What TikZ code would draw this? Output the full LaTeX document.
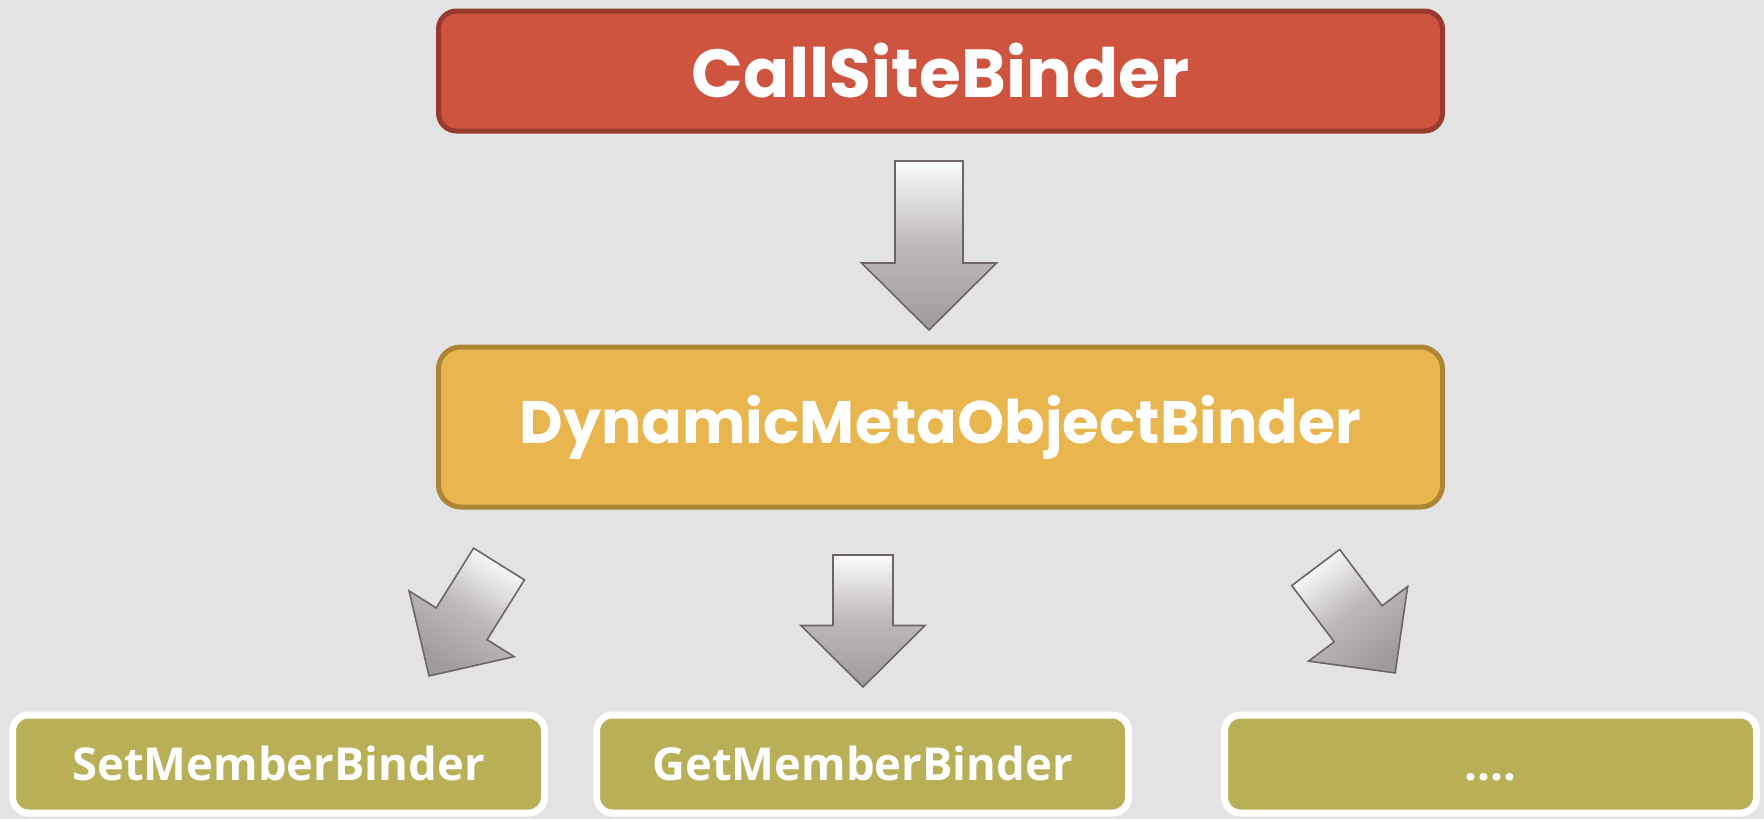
\documentclass[tikz,border=0pt]{standalone}
\usepackage{fontspec}
\newfontfamily\headfont{Poppins}
\newfontfamily\subfont{Open Sans}
\definecolor{bgcol}{HTML}{E3E3E3}
\definecolor{redfill}{HTML}{CE5440}
\definecolor{redline}{HTML}{983A2D}
\definecolor{goldfill}{HTML}{E8B54F}
\definecolor{goldline}{HTML}{AD8535}
\definecolor{olivefill}{HTML}{B8AF56}
\definecolor{arrowline}{HTML}{6E6467}
\definecolor{arrowtop}{HTML}{FBFBFB}
\definecolor{arrowmid}{HTML}{BDB8BA}
\definecolor{arrowbot}{HTML}{A09A9C}
\tikzset{
  topbox/.style={draw=redline, fill=redfill, line width=2.5pt, rounded corners=9pt,
    minimum width=502pt, minimum height=60pt, text=white, font=\headfont\bfseries\fontsize{34}{40}\selectfont},
  midbox/.style={draw=goldline, fill=goldfill, line width=2.5pt, rounded corners=11pt,
    minimum width=502pt, minimum height=80pt, text=white, font=\headfont\bfseries\fontsize{30}{36}\selectfont},
  subbox/.style={draw=white, fill=olivefill, line width=3.5pt, rounded corners=8pt,
    minimum width=266pt, minimum height=49pt, text=white, text height=16.5pt, text depth=0.3pt,
    font=\subfont\bfseries\fontsize{22.7}{27}\selectfont},
  blockarrow/.style={draw=arrowline, line width=0.8pt, top color=arrowtop, bottom color=arrowbot, middle color=arrowmid},
}
\begin{document}
\begin{tikzpicture}[x=0.5pt, y=-0.5pt]
\fill[bgcol] (0,0) rectangle (1764,819);
\useasboundingbox (0,0) rectangle (1764,819);

\node[topbox] (csb) at (940.5,71) {CallSiteBinder};
\node[midbox] (dmob) at (940.5,427) {DynamicMetaObjectBinder};
\node[subbox] (smb) at (278.5,764) {SetMemberBinder};
\node[subbox] (gmb) at (862.5,764) {GetMemberBinder};
\node[subbox] (etc) at (1490.5,764) {....};

% big arrow
\begin{scope}[shift={(929,161)}]
\path[blockarrow] (-34,0) -- (34,0) -- (34,102) -- (67.5,102) -- (0,169) -- (-67.5,102) -- (-34,102) -- cycle;
\end{scope}
% middle small arrow
\begin{scope}[shift={(863,555)}]
\path[blockarrow] (-30,0) -- (30,0) -- (30,70.5) -- (62,70.5) -- (0,132) -- (-62,70.5) -- (-30,70.5) -- cycle;
\end{scope}
% left small arrow
\begin{scope}[shift={(499,564)}, rotate=-32]
\path[blockarrow, shading angle=-32] (-30,0) -- (30,0) -- (30,70.5) -- (62,70.5) -- (0,132) -- (-62,70.5) -- (-30,70.5) -- cycle;
\end{scope}
% right small arrow
\begin{scope}[shift={(1315.7,567.5)}, rotate=37]
\path[blockarrow, shading angle=37] (-30,0) -- (30,0) -- (30,70.5) -- (62,70.5) -- (0,132) -- (-62,70.5) -- (-30,70.5) -- cycle;
\end{scope}
\end{tikzpicture}
\end{document}
